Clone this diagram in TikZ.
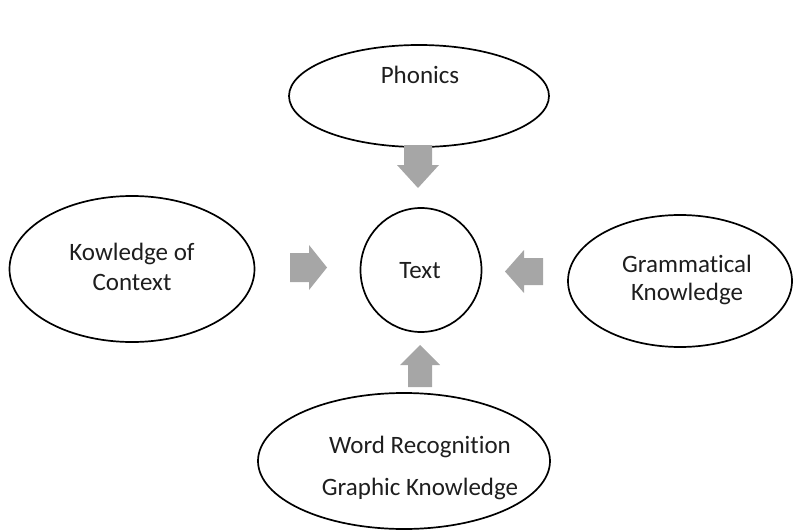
\documentclass[tikz,border=0pt]{standalone}
\usepackage{fontspec}
\setmainfont{Carlito}[Ligatures={NoCommon}]
\usetikzlibrary{shapes.geometric}
\definecolor{arrgray}{HTML}{A6A6A6}
\definecolor{txt}{HTML}{1E1E1E}
\begin{document}
\begin{tikzpicture}[x=1pt,y=-1pt,
  oval/.style={ellipse,draw=black,line width=1.7pt,inner sep=0pt},
  lab/.style={anchor=base,inner sep=0pt,text=txt,font=\fontsize{25}{29}\selectfont},
  blockarr/.style={fill=arrgray,draw=none}]
\useasboundingbox (0,0) rectangle (793,530);
% ellipses
\node[oval,minimum width=260pt,minimum height=102pt] (phon) at (419,96) {};
\node[oval,minimum width=121pt,minimum height=124pt] (text) at (421,270) {};
\node[oval,minimum width=245pt,minimum height=146pt] (ctx) at (132,269) {};
\node[oval,minimum width=224pt,minimum height=132pt] (gram) at (680,281) {};
\node[oval,minimum width=292pt,minimum height=136pt] (word) at (404,461) {};
% labels
\node[lab] (tphon) at (420,83) {Phonics};
\node[lab] (ttext) at (420,278) {Text};
\node[lab] (tctx1) at (132,260) {Kowledge of};
\node[lab] (tctx2) at (132,290) {Context};
\node[lab] (tgram1) at (687,272) {Grammatical};
\node[lab] (tgram2) at (687,300) {Knowledge};
\node[lab] (tword1) at (420,453) {Word Recognition};
\node[lab] (tword2) at (420,495) {Graphic Knowledge};
% block arrows
\fill[blockarr] (404,145) -- (432,145) -- (432,165) -- (439,165) -- (418,188) -- (397,165) -- (404,165) -- cycle;
\fill[blockarr] (290,253) -- (309,253) -- (309,245) -- (327,267.5) -- (309,290) -- (309,282) -- (290,282) -- cycle;
\fill[blockarr] (543,258) -- (524,258) -- (524,250) -- (505,271.5) -- (524,293) -- (524,285) -- (543,285) -- cycle;
\fill[blockarr] (408,387) -- (408,365) -- (400,365) -- (420,345) -- (440,365) -- (432,365) -- (432,387) -- cycle;
\end{tikzpicture}
\end{document}
